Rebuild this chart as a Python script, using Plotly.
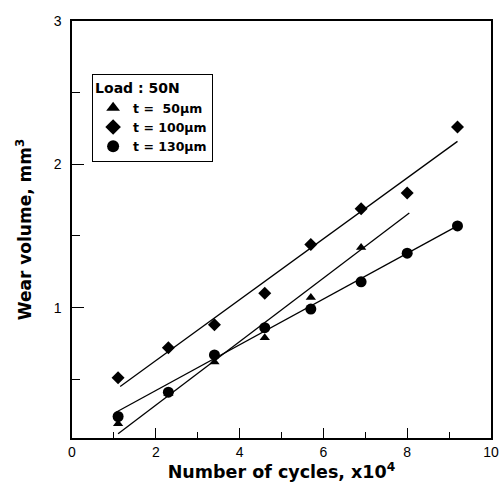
import plotly.graph_objects as go

# Data (cycles x10^4, wear volume mm^3)
x_tri = [1.1, 2.3, 3.4, 4.6, 5.7, 6.9]
y_tri = [0.19, 0.40, 0.62, 0.79, 1.07, 1.42]
x_dia = [1.1, 2.3, 3.4, 4.6, 5.7, 6.9, 8.0, 9.2]
y_dia = [0.51, 0.72, 0.88, 1.10, 1.44, 1.69, 1.80, 2.26]
x_cir = [1.1, 2.3, 3.4, 4.6, 5.7, 6.9, 8.0, 9.2]
y_cir = [0.24, 0.41, 0.67, 0.86, 0.99, 1.18, 1.38, 1.57]

# Linear fit lines (endpoints)
fit_tri_x = [1.1, 8.05]
fit_tri_y = [0.12, 1.66]
fit_dia_x = [1.15, 9.2]
fit_dia_y = [0.45, 2.16]
fit_cir_x = [1.05, 9.2]
fit_cir_y = [0.27, 1.57]

FONT = "Arial, Liberation Sans, Helvetica, sans-serif"
BOLD = "DejaVu Sans, Arial, sans-serif"

fig = go.Figure()
for fx, fy in [(fit_tri_x, fit_tri_y), (fit_dia_x, fit_dia_y), (fit_cir_x, fit_cir_y)]:
    fig.add_trace(go.Scatter(x=fx, y=fy, mode="lines", line=dict(color="black", width=1.3),
                             showlegend=False, hoverinfo="skip"))

fig.add_trace(go.Scatter(x=x_tri, y=y_tri, mode="markers", name="t =  50μm",
                         marker=dict(symbol="triangle-up", size=9, color="black")))
fig.add_trace(go.Scatter(x=x_dia, y=y_dia, mode="markers", name="t = 100μm",
                         marker=dict(symbol="diamond", size=10, color="black")))
fig.add_trace(go.Scatter(x=x_cir, y=y_cir, mode="markers", name="t = 130μm",
                         marker=dict(symbol="circle", size=11, color="black")))

fig.update_layout(
    width=503, height=486,
    margin=dict(l=72, r=12, t=21, b=48),
    paper_bgcolor="white", plot_bgcolor="white",
    font=dict(family=FONT, color="black", size=14),
    legend=dict(
        x=0.048, y=0.873, xanchor="left", yanchor="top",
        bordercolor="black", borderwidth=1, bgcolor="white",
        title=dict(text="<b>Load : 50N</b>", font=dict(size=14, family=BOLD)),
        font=dict(size=12.5, family=BOLD, weight="bold"),
        tracegroupgap=0, itemsizing="constant",
    ),
    xaxis=dict(
        range=[0, 10], tickmode="array", tickvals=[0, 2, 4, 6, 8, 10],
        ticks="inside", ticklen=10, tickwidth=1.3, tickcolor="black",
        minor=dict(tickvals=[1, 3, 5, 7, 9], ticks="inside", ticklen=6, tickwidth=1.2, tickcolor="black"),
        showgrid=False, zeroline=False, showline=True, linecolor="black", linewidth=1.5, mirror=True,
        tickfont=dict(size=14), automargin=False,
        title=dict(text="<b>Number of cycles, x10<sup>4</sup></b>", font=dict(size=17.5, family=BOLD), standoff=6),
    ),
    yaxis=dict(
        range=[0.09, 3], tickmode="array", tickvals=[1, 2, 3],
        ticks="inside", ticklen=12, tickwidth=1.3, tickcolor="black",
        minor=dict(tickvals=[0.5, 1.5, 2.5], ticks="inside", ticklen=8, tickwidth=1.2, tickcolor="black"),
        showgrid=False, zeroline=False, showline=True, linecolor="black", linewidth=1.5, mirror=True,
        tickfont=dict(size=14), ticklabelstandoff=6, automargin=False,
        title=dict(text="<b>Wear volume, mm<sup>3</sup></b>", font=dict(size=17, family=BOLD), standoff=18),
    ),
)

fig.write_html("out.html", config={"displayModeBar": False},
               post_script="document.body.style.margin='0px';")
